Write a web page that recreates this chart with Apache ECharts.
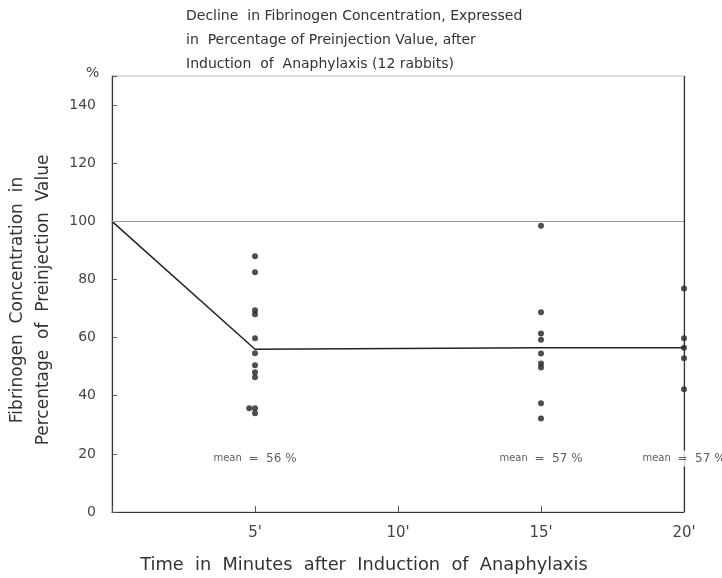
<!DOCTYPE html>
<html>
<head>
<meta charset="utf-8">
<script src="https://cdn.jsdelivr.net/npm/echarts@6/dist/echarts.min.js"></script>
<style>
  html, body { margin: 0; padding: 0; background: #fff; }
  #main { width: 722px; height: 578px; }
</style>
</head>
<body>
<div id="main"></div>
<script>
// time axis ticks (minutes) and their labels
var timeTicks = [5, 10, 15, 20];
var timeLabels = ["5'", "10'", "15'", "20'"];

// fibrinogen, % of preinjection value, one dot per rabbit
var points5 = [[5, 88], [5, 82.5], [5, 69.4], [5, 68], [5, 59.8], [5, 54.6],
  [5, 50.5], [5, 48.1], [5, 46.4], [4.8, 35.7], [5, 35.7], [5, 34]];
var points15 = [[15, 98.5], [15, 68.7], [15, 61.4], [15, 59.3], [15, 54.5],
  [15, 51.1], [15, 49.7], [15, 37.4], [15, 32.2]];
var points20 = [[20, 76.9], [20, 59.8], [20, 56.5], [20, 52.9], [20, 42.2]];

// mean line
var meanTimes = [0, 5, 15, 20];
var meanValues = [100, 56, 56.5, 56.5];

// mean annotations
var meanLabelTimes = [5, 15, 20];
var meanLabelTexts = ['56 %', '57 %', '57 %'];
var meanLabelLevel = 18.4;

var myChart = echarts.init(document.getElementById('main'));

var font = 'DejaVu Sans';

var option = {
  backgroundColor: '#fff',
  animation: false,
  title: {
    text: 'Decline  in Fibrinogen Concentration, Expressed\nin  Percentage of Preinjection Value, after\nInduction  of  Anaphylaxis (12 rabbits)',
    left: 181,
    top: -1,
    textStyle: {
      fontFamily: font,
      fontSize: 14,
      fontWeight: 'normal',
      color: '#333',
      lineHeight: 24
    }
  },
  grid: {
    left: 112,
    right: 38,
    top: 76,
    bottom: 66,
    outerBoundsMode: 'none',
    containLabel: false,
    show: true,
    borderColor: '#bbb',
    borderWidth: 1
  },
  xAxis: {
    type: 'value',
    min: 0,
    max: 20,
    interval: 5,
    axisLine: { lineStyle: { color: '#333', width: 1.2 } },
    axisTick: { inside: true, length: 6, lineStyle: { color: '#555' } },
    splitLine: { show: false },
    axisLabel: {
      fontFamily: font,
      fontSize: 15,
      color: '#444',
      margin: 14,
      formatter: function (v) {
        var i = timeTicks.indexOf(v);
        return i < 0 ? '' : timeLabels[i];
      }
    }
  },
  yAxis: {
    type: 'value',
    min: 0,
    max: 150,
    interval: 20,
    axisLine: { show: true, lineStyle: { color: '#333', width: 1.2 } },
    axisTick: { show: true, inside: true, length: 5, lineStyle: { color: '#555' } },
    splitLine: { show: false },
    axisLabel: {
      fontFamily: font,
      fontSize: 14,
      color: '#444',
      margin: 16,
      formatter: function (v) { return v > 140 ? '' : String(v); }
    }
  },
  graphic: [
    {
      type: 'text',
      left: 86,
      top: 66,
      style: { text: '%', font: '14px "DejaVu Sans"', fill: '#444' }
    },
    {
      type: 'text',
      x: 364,
      y: 565,
      style: {
        text: 'Time  in  Minutes  after  Induction  of  Anaphylaxis',
        font: '17.8px "DejaVu Sans"', fill: '#333',
        textAlign: 'center', textVerticalAlign: 'middle'
      }
    },
    {
      type: 'text',
      x: 18,
      y: 300,
      rotation: Math.PI / 2,
      style: {
        text: 'Fibrinogen  Concentration  in',
        font: '17px "DejaVu Sans"', fill: '#333',
        textAlign: 'center', textVerticalAlign: 'middle'
      }
    },
    {
      type: 'text',
      x: 44,
      y: 300,
      rotation: Math.PI / 2,
      style: {
        text: 'Percentage  of  Preinjection  Value',
        font: '17px "DejaVu Sans"', fill: '#333',
        textAlign: 'center', textVerticalAlign: 'middle'
      }
    }
  ],
  series: [
    {
      type: 'line',
      data: meanTimes.map(function (t, i) { return [t, meanValues[i]]; }),
      symbol: 'none',
      lineStyle: { color: '#222', width: 1.5 },
      z: 3,
      markLine: {
        silent: true,
        symbol: 'none',
        label: { show: false },
        data: [
          { yAxis: 100, lineStyle: { color: '#999', width: 1, type: 'solid' } },
          { xAxis: 20, lineStyle: { color: '#333', width: 1.2, type: 'solid' } }
        ]
      }
    },
    {
      type: 'scatter',
      data: points5.concat(points15, points20),
      symbolSize: 6,
      itemStyle: { color: '#222' },
      z: 4
    },
    {
      type: 'scatter',
      data: meanLabelTimes.map(function (t, i) { return [t, meanLabelLevel, meanLabelTexts[i]]; }),
      symbolSize: 0,
      z: 10,
      label: {
        show: true,
        position: 'inside',
        backgroundColor: '#fff',
        padding: [2, 2],
        formatter: function (p) { return '{m|mean}  {v|=  ' + p.value[2] + '}'; },
        rich: {
          m: { fontFamily: font, fontSize: 10, color: '#333' },
          v: { fontFamily: font, fontSize: 12, color: '#333' }
        }
      }
    }
  ]
};

myChart.setOption(option);
</script>
</body>
</html>
